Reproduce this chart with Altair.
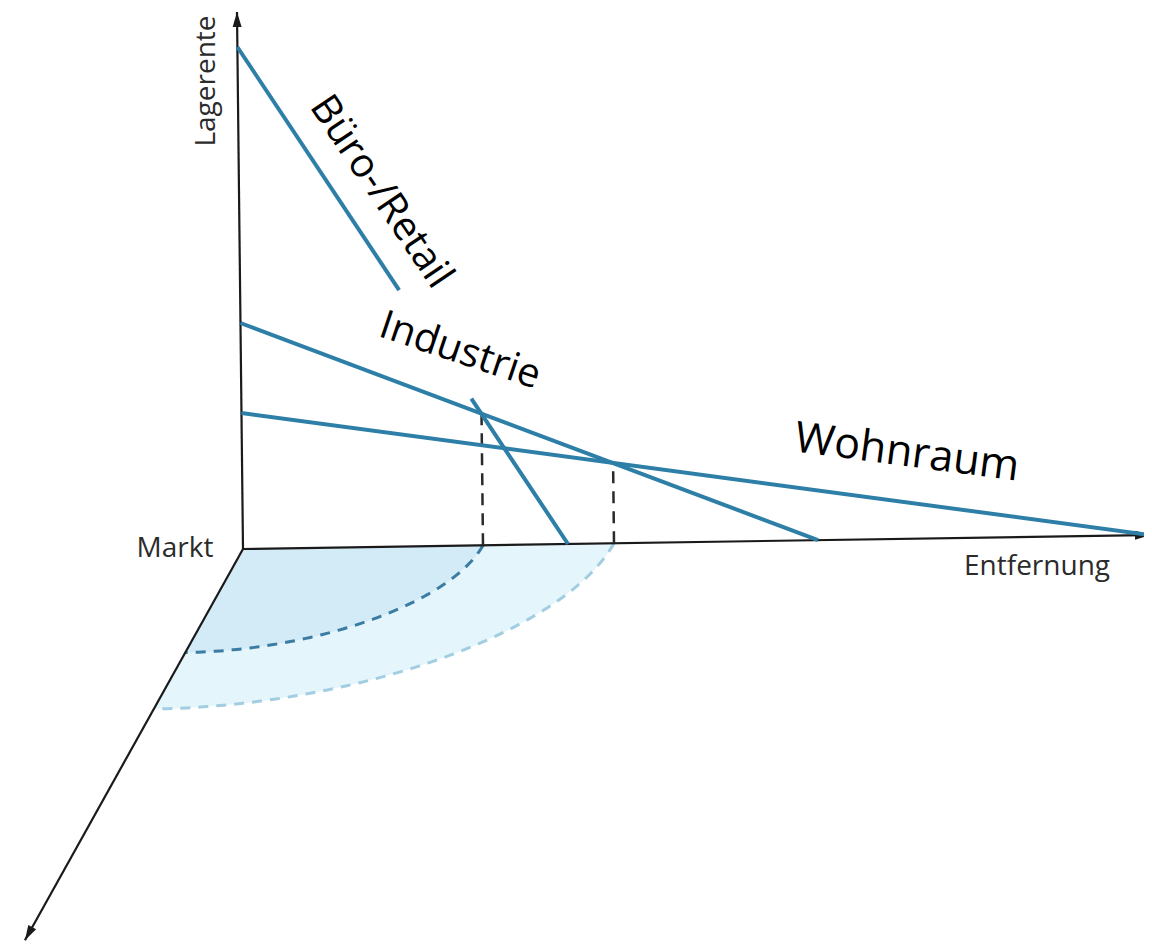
import numpy as np
import pandas as pd
import altair as alt

# ---------------- data ----------------
zones = ["Büro-/Retail", "Industrie", "Wohnraum"]
rent_at_market = [502, 226, 136]        # bid rent at the market (distance 0)
max_distance = [325, 575, 907]          # distance where the bid rent reaches 0
zone_boundaries = [240, 371]            # distances of the dashed boundaries
zone_radius_fill = ["#d3eaf7", "#e4f6fc"]
zone_arc_color = ["#3b7ca4", "#a3cde1"]
axis_labels = ["Lagerente", "Markt", "Entfernung"]
rent_axis_max = 537
distance_axis_max = 907
depth_axis_max = 907
buero_label_gap = [159, 230]            # part of the Büro line hidden by the label

# ---------------- layout / projection ----------------
U = (1.0, 0.0154)      # distance direction
W = (-0.0112, 1.0)     # rent direction
V = (-0.2404, -0.4313)  # depth direction (third axis)


def proj(d, r, z):
    return (d * U[0] + r * W[0] + z * V[0], d * U[1] + r * W[1] + z * V[1])


XDOM = [-235, 901]
YDOM = [-392, 541]


def xe(f="X"):
    return alt.X(f"{f}:Q", scale=alt.Scale(domain=XDOM, nice=False, zero=False), axis=None)


def ye(f="Y"):
    return alt.Y(f"{f}:Q", scale=alt.Scale(domain=YDOM, nice=False, zero=False), axis=None)


def rent_of(i, d):
    return rent_at_market[i] * (1 - d / max_distance[i])


# ---------------- filled zones on the ground plane ----------------
def zone_area(R):
    th0 = np.arctan(1 / -V[0])
    thetas = np.sort(np.concatenate([np.linspace(0, np.pi / 2, 80), [th0]]))
    rows = []
    for t in thetas:
        X, Y = proj(R * np.cos(t), 0, R * np.sin(t))
        if X >= 0:
            Yt = U[1] * X
        else:
            Yt = X * V[1] / V[0]
        rows.append({"X": X, "Y": Y, "Y2": Yt})
    return pd.DataFrame(rows).sort_values("X")


area_layers = []
fills = [(zone_boundaries[1], zone_radius_fill[1]),
         (zone_boundaries[0], zone_radius_fill[0])]
for R, col in fills:
    area_layers.append(
        alt.Chart(zone_area(R)).mark_area(color=col, opacity=1, orient="vertical")
        .encode(x=xe(), y=ye(), y2="Y2:Q")
    )

# ---------------- dashed arcs ----------------
arc_layers = []
for k, R in enumerate(zone_boundaries):
    rows = []
    for j, t in enumerate(np.linspace(0, np.pi / 2, 90)):
        X, Y = proj(R * np.cos(t), 0, R * np.sin(t))
        rows.append({"X": X, "Y": Y, "o": j})
    arc_layers.append(
        alt.Chart(pd.DataFrame(rows)).mark_line(
            color=zone_arc_color[k], strokeWidth=3, strokeDash=[10, 8])
        .encode(x=xe(), y=ye(), order="o:Q")
    )

# ---------------- axes ----------------
axes_rows = []
for name, (d, r, z) in {"rent": (0, rent_axis_max, 0),
                        "dist": (distance_axis_max, 0, 0),
                        "depth": (0, 0, depth_axis_max)}.items():
    X0, Y0 = proj(0, 0, 0)
    X1, Y1 = proj(d, r, z)
    axes_rows += [{"X": X0, "Y": Y0, "g": name, "o": 0}, {"X": X1, "Y": Y1, "g": name, "o": 1}]
axes_layer = alt.Chart(pd.DataFrame(axes_rows)).mark_line(color="#1a1a1a", strokeWidth=2.2).encode(
    x=xe(), y=ye(), detail="g:N", order="o:Q")

arrow_path = "M0,0 L0.45,1.5 L-0.45,1.5 Z"
tips = []
for (d, r, z), ang in [((0, rent_axis_max, 0), 359.4),
                       ((distance_axis_max, 0, 0), 89.1),
                       ((0, 0, depth_axis_max), 209.0)]:
    X, Y = proj(d, r, z)
    tips.append({"X": X, "Y": Y, "a": ang})
arrow_layer = alt.Chart(pd.DataFrame(tips)).mark_point(
    shape=arrow_path, filled=True, color="#1a1a1a", size=400, opacity=1).encode(
    x=xe(), y=ye(), angle=alt.Angle("a:Q", scale=None))

# ---------------- dashed boundaries (vertical) ----------------
vrows = []
for k, d in enumerate(zone_boundaries):
    r = max(rent_of(i, d) for i in range(3))
    X0, Y0 = proj(d, 0, 0)
    X1, Y1 = proj(d, r, 0)
    vrows += [{"X": X0, "Y": Y0, "g": k, "o": 0}, {"X": X1, "Y": Y1, "g": k, "o": 1}]
vdash_layer = alt.Chart(pd.DataFrame(vrows)).mark_line(
    color="#2a2a2a", strokeWidth=2.5, strokeDash=[12, 8]).encode(
    x=xe(), y=ye(), detail="g:N", order="o:Q")

# ---------------- bid-rent lines ----------------
lrows = []
for i, zname in enumerate(zones):
    segs = [(0, max_distance[i])]
    if i == 0:
        segs = [(0, buero_label_gap[0]), (buero_label_gap[1], max_distance[i])]
    for s, (a, b) in enumerate(segs):
        for o, d in enumerate([a, b]):
            X, Y = proj(d, rent_of(i, d), 0)
            lrows.append({"X": X, "Y": Y, "g": f"{zname}-{s}", "o": o})
bid_layer = alt.Chart(pd.DataFrame(lrows)).mark_line(
    color="#2d7fa7", strokeWidth=4).encode(x=xe(), y=ye(), detail="g:N", order="o:Q")

# ---------------- labels ----------------
zone_label_pos = [(138, 357, 56, 40), (217, 198, 18.6, 40), (664, 96, 7.5, 43)]
zone_labels = pd.DataFrame([{"X": p[0], "Y": p[1], "a": p[2], "s": p[3], "t": t}
                            for t, p in zip(zones, zone_label_pos)])
zone_text = alt.Chart(zone_labels).mark_text(
    font="Open Sans", color="#000000", align="center", baseline="middle").encode(
    x=xe(), y=ye(), text="t:N", angle=alt.Angle("a:Q", scale=None),
    size=alt.Size("s:Q", scale=None))

axis_label_pos = [(-36, 468, 270), (-68, 0, 0), (794, -18, 0)]
axis_lab = pd.DataFrame([{"X": p[0], "Y": p[1], "a": p[2], "t": t}
                         for t, p in zip(axis_labels, axis_label_pos)])
axis_text = alt.Chart(axis_lab).mark_text(
    font="Open Sans", fontSize=28, color="#2b2b2b", align="center", baseline="middle").encode(
    x=xe(), y=ye(), text="t:N", angle=alt.Angle("a:Q", scale=None))

chart = alt.layer(
    *area_layers, *arc_layers, axes_layer, arrow_layer, vdash_layer, bid_layer,
    zone_text, axis_text
).properties(
    width=1136, height=933, autosize=alt.AutoSizeParams(type="none"), padding=0
).configure_view(stroke=None)

chart.save("out.html", embed_options={"renderer": "svg", "actions": False})
